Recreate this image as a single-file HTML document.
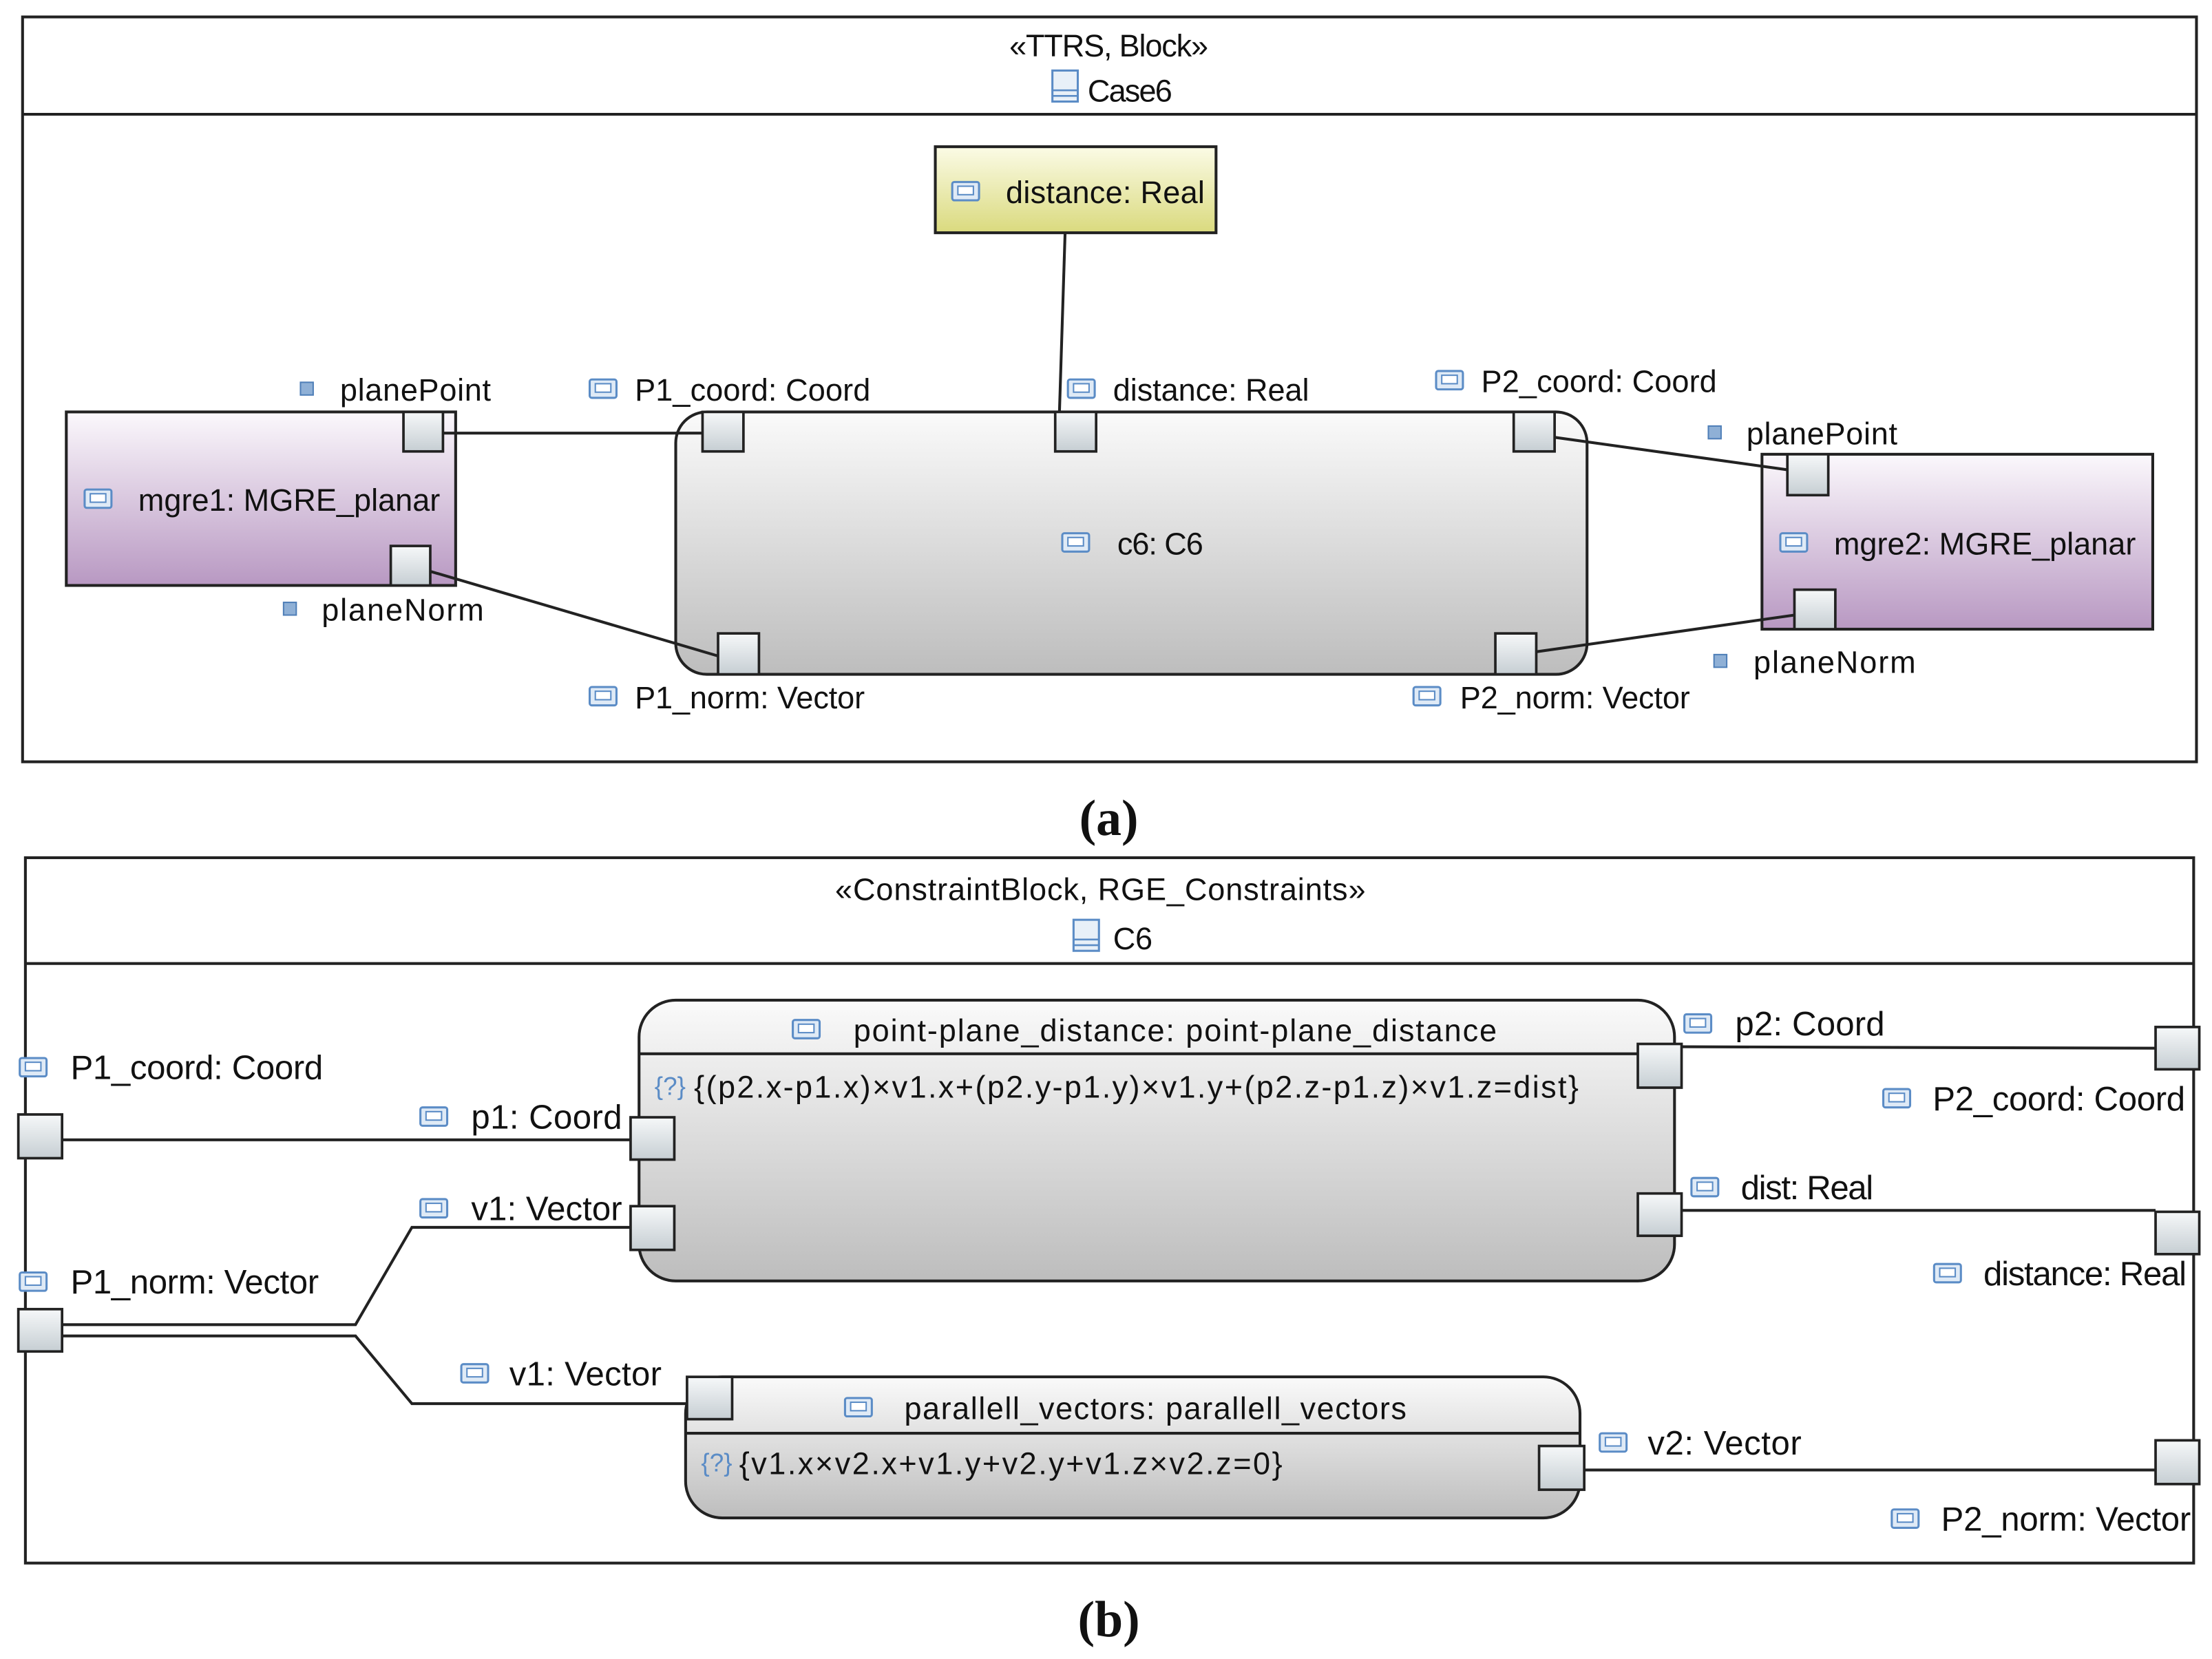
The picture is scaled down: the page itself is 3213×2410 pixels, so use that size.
<!DOCTYPE html>
<html><head><meta charset="utf-8"><style>
html,body{margin:0;padding:0;background:#fff;}
svg{display:block;}
text{font-family:"Liberation Sans",sans-serif;fill:#111;}
</style></head><body>
<svg width="3213" height="2410" viewBox="0 0 1568 1176" preserveAspectRatio="none" xmlns="http://www.w3.org/2000/svg">
<defs>
<linearGradient id="gP" x1="0" y1="0" x2="0" y2="1"><stop offset="0" stop-color="#fbf8fc"/><stop offset="1" stop-color="#b898c2"/></linearGradient>
<linearGradient id="gG" x1="0" y1="0" x2="0" y2="1"><stop offset="0" stop-color="#fafafa"/><stop offset="1" stop-color="#bdbdbd"/></linearGradient>
<linearGradient id="gY" x1="0" y1="0" x2="0" y2="1"><stop offset="0" stop-color="#fbfbe6"/><stop offset="1" stop-color="#dada7e"/></linearGradient>
<linearGradient id="gPort" x1="0" y1="0" x2="0" y2="1"><stop offset="0" stop-color="#f6f8f9"/><stop offset="1" stop-color="#c6ced3"/></linearGradient>
<g id="ic"><rect x="0" y="-7" width="19" height="13" rx="1.5" fill="#dfeaf6" stroke="#5b8cc6" stroke-width="1.5"/><rect x="4" y="-4" width="11" height="6" fill="#fff" stroke="#5b8cc6" stroke-width="1"/></g>
<g id="sq"><rect x="0" y="-5" width="9" height="9" fill="#8fb0d6" stroke="#4f7fb8" stroke-width="1"/></g>
<g id="bi"><rect x="0" y="-10" width="18" height="22" fill="#e8f0f8" stroke="#5b8cc6" stroke-width="1.5"/><line x1="0" y1="4" x2="18" y2="4" stroke="#5b8cc6" stroke-width="1.3"/><line x1="0" y1="8" x2="18" y2="8" stroke="#5b8cc6" stroke-width="1.3"/></g>
</defs>
<g stroke="#222" stroke-width="2" fill="none">
<!-- frame a -->
<rect x="16" y="12" width="1541" height="528"/>
<line x1="16" y1="81" x2="1557" y2="81"/>
<!-- frame b -->
<rect x="18" y="608" width="1537" height="500"/>
<line x1="18" y1="683" x2="1555" y2="683"/>
</g>
<!-- titles -->
<text x="786" y="40" font-size="22" text-anchor="middle" textLength="141">«TTRS, Block»</text>
<use href="#bi" x="746" y="60"/>
<text x="771" y="72" font-size="22" textLength="60">Case6</text>
<text x="780" y="638" font-size="22" text-anchor="middle" textLength="376">«ConstraintBlock, RGE_Constraints»</text>
<use href="#bi" x="761" y="662"/>
<text x="789" y="673" font-size="22" textLength="28">C6</text>

<!-- (a) nodes -->
<rect x="663" y="104" width="199" height="61" fill="url(#gY)" stroke="#222" stroke-width="2"/>
<use href="#ic" x="675" y="136"/>
<text x="713" y="144" font-size="22" textLength="141">distance: Real</text>
<rect x="47" y="292" width="276" height="123" fill="url(#gP)" stroke="#222" stroke-width="2"/>
<use href="#ic" x="60" y="354"/>
<text x="98" y="362" font-size="22" textLength="214">mgre1: MGRE_planar</text>
<rect x="1249" y="322" width="277" height="124" fill="url(#gP)" stroke="#222" stroke-width="2"/>
<use href="#ic" x="1262" y="385"/>
<text x="1300" y="393" font-size="22" textLength="214">mgre2: MGRE_planar</text>
<rect x="479" y="292" width="646" height="186" rx="22" fill="url(#gG)" stroke="#222" stroke-width="2"/>
<use href="#ic" x="753" y="385"/>
<text x="792" y="393" font-size="22" textLength="61">c6: C6</text>

<g stroke="#222" stroke-width="2" fill="none">
<line x1="755" y1="165" x2="751" y2="292"/>
<line x1="314" y1="307" x2="498" y2="307"/>
<line x1="305" y1="405" x2="509" y2="465"/>
<line x1="1102" y1="310" x2="1267" y2="333"/>
<line x1="1089" y1="462" x2="1272" y2="436"/>
</g>
<g fill="url(#gPort)" stroke="#222" stroke-width="1.8">
<rect x="286" y="292" width="28" height="28"/>
<rect x="277" y="387" width="28" height="28"/>
<rect x="498" y="292" width="29" height="28"/>
<rect x="748" y="292" width="29" height="28"/>
<rect x="1073" y="292" width="29" height="28"/>
<rect x="509" y="449" width="29" height="29"/>
<rect x="1060" y="449" width="29" height="29"/>
<rect x="1267" y="322" width="29" height="29"/>
<rect x="1272" y="418" width="29" height="28"/>
</g>
<use href="#sq" x="213" y="276"/><text x="241" y="284" font-size="22" textLength="107">planePoint</text>
<use href="#ic" x="418" y="276"/><text x="450" y="284" font-size="22" textLength="167">P1_coord: Coord</text>
<use href="#ic" x="757" y="276"/><text x="789" y="284" font-size="22" textLength="139">distance: Real</text>
<use href="#ic" x="1018" y="270"/><text x="1050" y="278" font-size="22" textLength="167">P2_coord: Coord</text>
<use href="#sq" x="1211" y="307"/><text x="1238" y="315" font-size="22" textLength="107">planePoint</text>
<use href="#sq" x="201" y="432"/><text x="228" y="440" font-size="22" textLength="115">planeNorm</text>
<use href="#sq" x="1215" y="469"/><text x="1243" y="477" font-size="22" textLength="115">planeNorm</text>
<use href="#ic" x="418" y="494"/><text x="450" y="502" font-size="22" textLength="163">P1_norm: Vector</text>
<use href="#ic" x="1002" y="494"/><text x="1035" y="502" font-size="22" textLength="163">P2_norm: Vector</text>

<text x="786" y="592" font-size="36" font-weight="bold" text-anchor="middle" style="font-family:'Liberation Serif',serif">(a)</text>
<text x="786" y="1160" font-size="36" font-weight="bold" text-anchor="middle" style="font-family:'Liberation Serif',serif">(b)</text>

<!-- (b) -->
<rect x="453" y="709" width="734" height="199" rx="26" fill="url(#gG)" stroke="#222" stroke-width="2"/>
<line x1="453" y1="747" x2="1187" y2="747" stroke="#222" stroke-width="2"/>
<use href="#ic" x="562" y="730"/>
<text x="605" y="738" font-size="22" textLength="456">point-plane_distance: point-plane_distance</text>
<text x="464" y="776" font-size="18" fill="#5b8cc6" style="fill:#5b8cc6">{?}</text>
<text x="492" y="778" font-size="22" textLength="627">{(p2.x-p1.x)×v1.x+(p2.y-p1.y)×v1.y+(p2.z-p1.z)×v1.z=dist}</text>

<rect x="486" y="976" width="634" height="100" rx="26" fill="url(#gG)" stroke="#222" stroke-width="2"/>
<line x1="486" y1="1016" x2="1120" y2="1016" stroke="#222" stroke-width="2"/>
<use href="#ic" x="599" y="998"/>
<text x="641" y="1006" font-size="22" textLength="356">parallell_vectors: parallell_vectors</text>
<text x="497" y="1043" font-size="18" style="fill:#5b8cc6">{?}</text>
<text x="524" y="1045" font-size="22" textLength="385">{v1.x×v2.x+v1.y+v2.y+v1.z×v2.z=0}</text>

<g stroke="#222" stroke-width="2" fill="none">
<line x1="44" y1="808" x2="447" y2="808"/>
<polyline points="44,939 252,939 292,870 447,870"/>
<polyline points="44,947 252,947 292,995 487,995"/>
<line x1="1192" y1="742" x2="1528" y2="743"/>
<line x1="1192" y1="858" x2="1528" y2="858"/>
<line x1="1123" y1="1042" x2="1528" y2="1042"/>
</g>
<g fill="url(#gPort)" stroke="#222" stroke-width="1.8">
<rect x="13" y="790" width="31" height="31"/>
<rect x="13" y="928" width="31" height="30"/>
<rect x="447" y="792" width="31" height="30"/>
<rect x="447" y="855" width="31" height="31"/>
<rect x="1161" y="740" width="31" height="31"/>
<rect x="1161" y="846" width="31" height="30"/>
<rect x="487" y="976" width="32" height="30"/>
<rect x="1091" y="1025" width="32" height="31"/>
<rect x="1528" y="728" width="31" height="30"/>
<rect x="1528" y="859" width="31" height="30"/>
<rect x="1528" y="1021" width="31" height="31"/>
</g>
<use href="#ic" x="14" y="757"/><text x="50" y="765" font-size="24" textLength="179">P1_coord: Coord</text>
<use href="#ic" x="298" y="792"/><text x="334" y="800" font-size="24" textLength="107">p1: Coord</text>
<use href="#ic" x="298" y="857"/><text x="334" y="865" font-size="24" textLength="107">v1: Vector</text>
<use href="#ic" x="14" y="909"/><text x="50" y="917" font-size="24" textLength="176">P1_norm: Vector</text>
<use href="#ic" x="327" y="974"/><text x="361" y="982" font-size="24" textLength="108">v1: Vector</text>
<use href="#ic" x="1194" y="726"/><text x="1230" y="734" font-size="24" textLength="106">p2: Coord</text>
<use href="#ic" x="1335" y="779"/><text x="1370" y="787" font-size="24" textLength="179">P2_coord: Coord</text>
<use href="#ic" x="1199" y="842"/><text x="1234" y="850" font-size="24" textLength="94">dist: Real</text>
<use href="#ic" x="1371" y="903"/><text x="1406" y="911" font-size="24" textLength="144">distance: Real</text>
<use href="#ic" x="1134" y="1023"/><text x="1168" y="1031" font-size="24" textLength="109">v2: Vector</text>
<use href="#ic" x="1341" y="1077"/><text x="1376" y="1085" font-size="24" textLength="177">P2_norm: Vector</text>
</svg>
</body></html>
